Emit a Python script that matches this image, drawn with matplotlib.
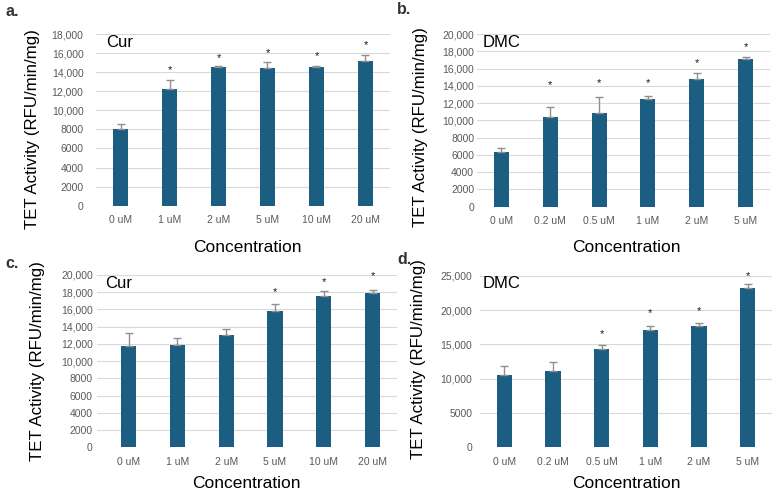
import matplotlib
matplotlib.use("Agg")
import matplotlib.pyplot as plt
import numpy as np

plt.rcParams['font.family'] = ['Liberation Sans', 'DejaVu Sans']

# ---- data ----
cur_labels = ['0 uM', '1 uM', '2 uM', '5 uM', '10 uM', '20 uM']
dmc_labels = ['0 uM', '0.2 uM', '0.5 uM', '1 uM', '2 uM', '5 uM']

a_vals = [8040, 12200, 14570, 14470, 14500, 15170]
a_err = [520, 980, 70, 590, 140, 630]
a_star = [None, 14220, 15450, 15970, 15690, 16840]

b_vals = [6370, 10360, 10890, 12440, 14800, 17150]
b_err = [470, 1160, 1790, 350, 690, 230]
b_star = [None, 14100, 14300, 14300, 16600, 18540]

c_vals = [11750, 11910, 13030, 15810, 17550, 17940]
c_err = [1480, 740, 740, 780, 550, 270]
c_star = [None, None, None, 17980, 19140, 19880]

d_vals = [10530, 11070, 14270, 17090, 17670, 23150]
d_err = [1360, 1400, 580, 530, 390, 590]
d_star = [None, None, 16500, 19510, 19900, 24950]

a_ticks = [0, 2000, 4000, 6000, 8000, 10000, 12000, 14000, 16000, 18000]
b_ticks = [0, 2000, 4000, 6000, 8000, 10000, 12000, 14000, 16000, 18000, 20000]
c_ticks = b_ticks
d_ticks = [0, 5000, 10000, 15000, 20000, 25000]

W, H = 778, 495
fig = plt.figure(figsize=(W / 100, H / 100), dpi=100)

BAR = '#1b5e82'
GRID = '#d9d9d9'
TICKC = '#595959'
ERRC = '#8f8f8f'


def fmt(v):
    return f"{v:,}" if v >= 10000 else f"{v}"


def px_axes(l, r, t, b):
    return fig.add_axes([l / W, 1 - b / H, (r - l) / W, (b - t) / H])


panels = [
    ('a.', cur_labels, a_vals, a_err, a_star, a_ticks, (96, 390, 34, 205.7), (-0.5, 5.5), 9.0,
     'Cur', (0.036, 0.95), (33, 129), (247, 248), (5, 12)),
    ('b.', dmc_labels, b_vals, b_err, b_star, b_ticks, (477, 770, 34, 206.7), (-0.5, 5.5), 2.0,
     'DMC', (0.02, 0.95), (420, 127), (626, 248), (397, 10)),
    ('c.', cur_labels, c_vals, c_err, c_star, c_ticks, (97, 397, 275, 447.3), (-0.65, 5.5), 3.0,
     'Cur', (0.027, 0.952), (37.5, 361), (246, 483), (5, 264)),
    ('d.', dmc_labels, d_vals, d_err, d_star, d_ticks, (480, 772, 275.7, 447.3), (-0.5, 5.5), 5.5,
     'DMC', (0.01, 0.955), (418, 359), (626, 483), (397, 260)),
]

for (name, labels, vals, err, star, ticks, box, xlim, ypad,
     tag, tagpos, ylab, xlab, txtpos) in panels:
    ax = px_axes(*box)
    x = np.arange(len(labels))
    ax.bar(x, vals, width=0.31, color=BAR, zorder=3)
    ax.errorbar(x, vals, yerr=[np.zeros(len(err)), err], fmt='none',
                ecolor=ERRC, elinewidth=1.0, capsize=3.0, capthick=1.0, zorder=4)
    for xi, s in zip(x, star):
        if s is not None:
            ax.text(xi, s, '*', ha='center', va='center', fontsize=8,
                    color='#1a1a1a', zorder=5, clip_on=False)
    ax.set_xlim(*xlim)
    ax.set_ylim(0, ticks[-1])
    ax.set_yticks(ticks)
    ax.set_yticklabels([fmt(t) for t in ticks])
    ax.set_xticks(x)
    ax.set_xticklabels(labels)
    ax.tick_params(axis='both', length=0, labelsize=7.5, labelcolor=TICKC)
    ax.tick_params(axis='y', pad=ypad)
    ax.tick_params(axis='x', pad=7)
    ax.grid(axis='y', color=GRID, linewidth=0.8, zorder=0)
    for sp in ax.spines.values():
        sp.set_visible(False)
    ax.text(tagpos[0], tagpos[1], tag, transform=ax.transAxes, fontsize=12,
            ha='left', va='center', color='black')
    ax.set_ylabel('TET Activity (RFU/min/mg)', fontsize=12.2, color='black')
    ax.yaxis.set_label_coords(ylab[0] / W, 1 - ylab[1] / H, transform=fig.transFigure)
    ax.yaxis.label.set_va('center')
    ax.set_xlabel('Concentration', fontsize=12.5, color='black')
    ax.xaxis.set_label_coords(xlab[0] / W, 1 - xlab[1] / H, transform=fig.transFigure)
    ax.xaxis.label.set_va('center')
    fig.text(txtpos[0] / W, 1 - txtpos[1] / H, name, fontsize=11.5, fontweight='bold',
             ha='left', va='center', color='#333333')

fig.savefig('out.png', dpi=100)
